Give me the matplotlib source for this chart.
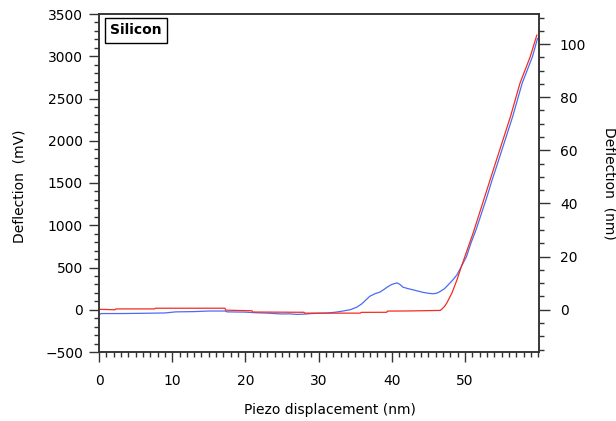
import matplotlib
matplotlib.use("Agg")
import matplotlib.pyplot as plt
from matplotlib.ticker import MultipleLocator, FixedLocator

# ---- data ----
blue_x = [0.0, 0.3, 3.0, 6.0, 9.0, 10.5, 13.0, 15.0, 17.2, 17.5, 20.0, 21.3, 23.0,
          25.0, 26.0, 27.0, 28.0, 29.0, 30.0, 31.0, 32.2, 33.0, 34.3, 35.2, 35.9,
          36.5, 37.0, 37.7, 38.4, 39.0, 39.5, 40.0, 40.7, 41.1, 41.5, 42.2, 42.9,
          43.6, 44.3, 45.0, 45.6, 46.1, 46.6, 47.2, 47.7, 48.3, 48.9, 49.5, 50.2,
          50.8, 51.5, 52.1, 53.0, 53.7, 54.3, 56.5, 57.8, 59.2, 59.9]
blue_y = [-60, -45, -45, -42, -38, -25, -22, -15, -15, -25, -28, -35, -40,
          -50, -48, -55, -52, -45, -42, -40, -30, -20, 0, 30, 70,
          120, 160, 190, 210, 245, 275, 300, 318, 300, 268, 250, 236,
          220, 205, 195, 189, 195, 216, 250, 295, 350, 414, 512, 630,
          788, 946, 1103, 1339, 1537, 1694, 2285, 2680, 2994, 3211]

red_x = [0.0, 2.2, 2.3, 7.6, 7.7, 17.2, 17.3, 20.9, 21.0, 28.0, 28.1, 35.7, 35.8,
         39.3, 39.4, 42.5, 46.6, 46.8, 47.2, 47.5, 48.2, 48.9, 49.5, 51.1, 54.0,
         56.2, 57.5, 58.9, 59.8]
red_y = [5, 0, 10, 10, 18, 18, -5, -12, -27, -30, -40, -40, -31,
         -30, -16, -14, -8, 5, 40, 79, 197, 355, 512, 907, 1694,
         2285, 2680, 2994, 3250]

mv_per_nm = 31.44
x_major = [0, 10, 20, 30, 40, 50]

plt.rcParams['font.family'] = ['DejaVu Sans']
plt.rcParams['font.size'] = 10

fig = plt.figure(figsize=(6.16, 4.21), dpi=100)
ax = fig.add_axes([99/616, 1 - 352/421, 440/616, 338/421])

ax.plot(blue_x, blue_y, color='#4a6cf5', lw=0.9)
ax.plot(red_x, red_y, color='#f52c1e', lw=0.9)

ax.set_xlim(0, 60.1)
ax.set_ylim(-500, 3500)

spine_col = '#333333'
for s in ax.spines.values():
    s.set_color(spine_col)
    s.set_linewidth(1.1)

ax.xaxis.set_major_locator(FixedLocator(x_major))
ax.xaxis.set_minor_locator(MultipleLocator(1))
ax.yaxis.set_major_locator(MultipleLocator(500))
ax.yaxis.set_minor_locator(MultipleLocator(100))
ax.tick_params(which='major', direction='out', length=7.5, width=1.0,
               color=spine_col, labelsize=10)
ax.tick_params(which='minor', direction='out', length=3.5, width=1.0,
               color=spine_col)
ax.tick_params(axis='x', which='major', pad=8)
ax.tick_params(axis='y', which='major', pad=4)

ax.set_xlabel('Piezo displacement (nm)', fontsize=10)
ax.xaxis.set_label_coords(0.525, -0.15)
ax.set_ylabel('Deflection  (mV)', fontsize=10)
ax.yaxis.set_label_coords(-0.165, 0.49)

ax2 = ax.twinx()
ax2.set_ylim(-500/mv_per_nm, 3500/mv_per_nm)
ax2.yaxis.set_major_locator(MultipleLocator(20))
ax2.yaxis.set_minor_locator(MultipleLocator(5))
ax2.tick_params(which='major', direction='out', length=8, width=1.0,
                color=spine_col, labelsize=10, pad=7)
ax2.tick_params(which='minor', direction='out', length=3.5, width=1.0,
                color=spine_col)
for s in ax2.spines.values():
    s.set_color(spine_col)
    s.set_linewidth(1.1)
ax2.set_ylabel('Deflection  (nm)', fontsize=10, rotation=270, labelpad=22)

ax.text(0.026, 0.972, 'Silicon', transform=ax.transAxes, fontsize=10,
        fontweight='bold', ha='left', va='top',
        bbox=dict(boxstyle='square,pad=0.38', fc='white', ec='black', lw=1.0))

fig.savefig('out.png', dpi=100)
